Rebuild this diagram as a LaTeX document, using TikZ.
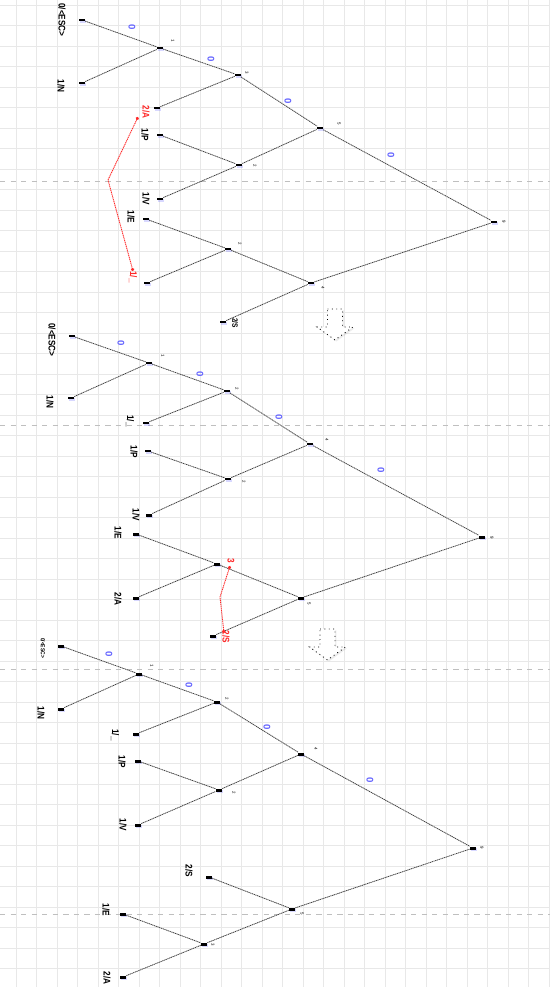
\documentclass[tikz,border=0pt]{standalone}
\usepackage{fontspec}
\setmainfont{Liberation Sans}
\usepackage{xcolor}
\definecolor{gridgrey}{gray}{0.91}
\definecolor{breakgrey}{gray}{0.75}
\definecolor{edgegrey}{gray}{0.25}
\definecolor{bitblue}{RGB}{100,100,255}
\definecolor{swapred}{RGB}{255,40,40}
\usepackage{tikz}
\usetikzlibrary{arrows.meta,shadows}

\begin{document}
\begin{tikzpicture}[
    x=0.02cm, y=-0.02cm,
    every node/.style={font=\bfseries},
    hnode/.style={fill=black, minimum width=3.4pt, minimum height=1.7pt, inner sep=0pt, drop shadow={shadow xshift=0.6pt, shadow yshift=-0.6pt, opacity=0.25, fill=blue!60}},
    sym/.style={rotate=-90, xscale=0.85, inner sep=0pt, font=\fontsize{5.5}{6}\selectfont\bfseries},
    wgt/.style={rotate=-90, inner sep=0pt, font=\fontsize{2.5}{3}\selectfont},
    bit/.style={rotate=-90, inner sep=0pt, text=bitblue, font=\fontsize{5.5}{6}\selectfont\bfseries},
    edge/.style={draw=edgegrey, line width=0.45pt, dash pattern=on 0.7pt off 0.35pt},
    swaparrow/.style={draw=swapred, line width=0.5pt, dash pattern=on 0.7pt off 0.4pt, {Circle[length=1.8pt]}-{Circle[length=1.8pt]}},
    pagebreak/.style={draw=breakgrey, dashed, line width=0.4pt},
    gridline/.style={draw=gridgrey, line width=0.3pt},
    bigarrow/.style={draw=black, fill=white, dotted, line width=0.5pt, drop shadow={shadow xshift=0.8pt, shadow yshift=-0.8pt, opacity=0.15}}
]
% Canvas and grid
\useasboundingbox (0,0) rectangle (550,987);
\fill[white] (0,0) rectangle (550,987);
\foreach \gx in {0,...,26} \draw[gridline] ({16+20.5*\gx},0) -- ++(0,987);
\foreach \gy in {0,...,47} \draw[gridline] (0,{5+20.5*\gy}) -- ++(550,0);
\foreach \py in {181,425,669,914} \draw[pagebreak] (0,\py) -- (550,\py);

% Tree 1
\node (esc1) [hnode] at (82,20) {};
\node (lN1) [hnode] at (82,83) {};
\node (a11) [hnode] at (160,48) {};
\node (lA1) [hnode] at (157,108) {};
\node (a12) [hnode] at (238,75) {};
\node (lP1) [hnode] at (160,135) {};
\node (lV1) [hnode] at (160,199) {};
\node (a14) [hnode] at (239,165) {};
\node (a13) [hnode] at (320,128) {};
\node (root1) [hnode] at (494,222) {};
\node (lE1) [hnode] at (146,219) {};
\node (lU1) [hnode] at (147,283) {};
\node (a15) [hnode] at (228,249) {};
\node (lS1) [hnode] at (223,322) {};
\node (a16) [hnode] at (311,283) {};

\node (tesc1) [sym] at (62,20) {0/<ESC>};
\node (tN1) [sym] at (61,86) {1/N};
\node (tA1) [sym, text=swapred] at (146,112) {2/A};
\node (tP1) [sym] at (145,135) {1/P};
\node (tV1) [sym] at (146,199) {1/V};
\node (tE1) [sym] at (131,217) {1/E};
\node (tU1) [sym, text=swapred] at (133,277) {1/\_};
\node (tS1) [sym, scale=0.8] at (235,323) {2/S};

\node (w11) [wgt] at (173,41) {1};
\node (w12) [wgt] at (247,73) {3};
\node (w14) [wgt] at (255,166) {2};
\node (w13) [wgt] at (339,124) {5};
\node (wr1) [wgt] at (504,222) {9};
\node (w15) [wgt] at (240,244) {2};
\node (w16) [wgt] at (323,288) {4};

\draw[edge] (esc1) -- (a11);
\draw[edge] (lN1) -- (a11);
\draw[edge] (a11) -- (a12);
\draw[edge] (lA1) -- (a12);
\draw[edge] (a12) -- (a13);
\draw[edge] (lP1) -- (a14);
\draw[edge] (lV1) -- (a14);
\draw[edge] (a14) -- (a13);
\draw[edge] (a13) -- (root1);
\draw[edge] (lE1) -- (a15);
\draw[edge] (lU1) -- (a15);
\draw[edge] (a15) -- (a16);
\draw[edge] (lS1) -- (a16);
\draw[edge] (a16) -- (root1);

\node (b11) [bit] at (132,27) {0};
\node (b12) [bit] at (211,59) {0};
\node (b13) [bit] at (288,101) {0};
\node (b14) [bit] at (391,155) {0};

\coordinate (s1a) at (138,117);
\coordinate (s1b) at (108,180);
\coordinate (s1c) at (133,271);
\draw[swaparrow] (s1a) -- (s1b) -- (s1c);

% Step arrow
\draw[bigarrow] (327.5,309) -- (342.5,309) -- (342.5,327) -- (353,327) -- (335,340) -- (317,327) -- (327.5,327) -- cycle;

% Tree 2
\node (esc2) [hnode] at (72,336) {};
\node (lN2) [hnode] at (71,398) {};
\node (a21) [hnode] at (149,363) {};
\node (lU2) [hnode] at (146,423) {};
\node (a22) [hnode] at (227,391) {};
\node (lP2) [hnode] at (148,451) {};
\node (lV2) [hnode] at (149,515) {};
\node (a24) [hnode] at (228,479) {};
\node (a23) [hnode] at (310,444) {};
\node (root2) [hnode] at (482,537) {};
\node (lE2) [hnode] at (136,534) {};
\node (lA2) [hnode] at (136,598) {};
\node (a25) [hnode] at (217,564) {};
\node (lS2) [hnode] at (213,636) {};
\node (a26) [hnode] at (301,598) {};

\node (tesc2) [sym] at (52,340) {0/<ESC>};
\node (tN2) [sym] at (50,402) {1/N};
\node (tU2) [sym] at (130,421) {1/\_};
\node (tP2) [sym] at (134,452) {1/P};
\node (tV2) [sym] at (136,515) {1/V};
\node (tE2) [sym] at (118,533) {1/E};
\node (tA2) [sym] at (118,599) {2/A};
\node (tS2) [sym, text=swapred] at (226,637) {2/S};

\node (w21) [wgt] at (163,356) {1};
\node (w22) [wgt] at (237,389) {2};
\node (w24) [wgt] at (244,482) {2};
\node (w23) [wgt] at (327,440) {4};
\node (wr2) [wgt] at (492,538) {9};
\node (w25) [sym, text=swapred] at (231,561) {3};
\node (w26) [wgt] at (309,604) {5};

\draw[edge] (esc2) -- (a21);
\draw[edge] (lN2) -- (a21);
\draw[edge] (a21) -- (a22);
\draw[edge] (lU2) -- (a22);
\draw[edge] (a22) -- (a23);
\draw[edge] (lP2) -- (a24);
\draw[edge] (lV2) -- (a24);
\draw[edge] (a24) -- (a23);
\draw[edge] (a23) -- (root2);
\draw[edge] (lE2) -- (a25);
\draw[edge] (lA2) -- (a25);
\draw[edge] (a25) -- (a26);
\draw[edge] (lS2) -- (a26);
\draw[edge] (a26) -- (root2);

\node (b21) [bit] at (121,343) {0};
\node (b22) [bit] at (200,374) {0};
\node (b23) [bit] at (279,417) {0};
\node (b24) [bit] at (381,470) {0};

\coordinate (s2a) at (230,566);
\coordinate (s2b) at (220,597);
\coordinate (s2c) at (224,633);
\draw[swaparrow] (s2a) -- (s2b) -- (s2c);

% Step arrow
\draw[bigarrow] (320,629) -- (335,629) -- (335,647) -- (345.5,647) -- (327.5,660) -- (309.5,647) -- (320,647) -- cycle;

% Tree 3
\node (esc3) [hnode] at (61,646) {};
\node (lN3) [hnode] at (61,709) {};
\node (a31) [hnode] at (139,674) {};
\node (lU3) [hnode] at (136,734) {};
\node (a32) [hnode] at (217,702) {};
\node (lP3) [hnode] at (138,761) {};
\node (lV3) [hnode] at (138,825) {};
\node (a34) [hnode] at (219,790) {};
\node (a33) [hnode] at (301,754) {};
\node (root3) [hnode] at (473,848) {};
\node (lS3) [hnode] at (209,877) {};
\node (lE3) [hnode] at (123,914) {};
\node (lA3) [hnode] at (123,977) {};
\node (a35) [hnode] at (204,944) {};
\node (a36) [hnode] at (292,909) {};

\node (tesc3) [sym, scale=0.6] at (43,648) {0/<ESC>};
\node (tN3) [sym] at (41,713) {1/N};
\node (tU3) [sym] at (115,735) {1/\_};
\node (tP3) [sym] at (122,762) {1/P};
\node (tV3) [sym] at (123,825) {1/V};
\node (tS3) [sym] at (189,871) {2/S};
\node (tE3) [sym] at (106,910) {1/E};
\node (tA3) [sym] at (107,978) {2/A};

\node (w31) [wgt] at (152,666) {1};
\node (w32) [wgt] at (227,699) {2};
\node (w34) [wgt] at (234,793) {2};
\node (w33) [wgt] at (316,749) {4};
\node (wr3) [wgt] at (482,848) {9};
\node (w35) [wgt] at (213,945) {3};
\node (w36) [wgt] at (302,914) {5};

\draw[edge] (esc3) -- (a31);
\draw[edge] (lN3) -- (a31);
\draw[edge] (a31) -- (a32);
\draw[edge] (lU3) -- (a32);
\draw[edge] (a32) -- (a33);
\draw[edge] (lP3) -- (a34);
\draw[edge] (lV3) -- (a34);
\draw[edge] (a34) -- (a33);
\draw[edge] (a33) -- (root3);
\draw[edge] (lS3) -- (a36);
\draw[edge] (lE3) -- (a35);
\draw[edge] (lA3) -- (a35);
\draw[edge] (a35) -- (a36);
\draw[edge] (a36) -- (root3);

\node (b31) [bit] at (109,654) {0};
\node (b32) [bit] at (189,685) {0};
\node (b33) [bit] at (267,727) {0};
\node (b34) [bit] at (370,780) {0};
\end{tikzpicture}
\end{document}
